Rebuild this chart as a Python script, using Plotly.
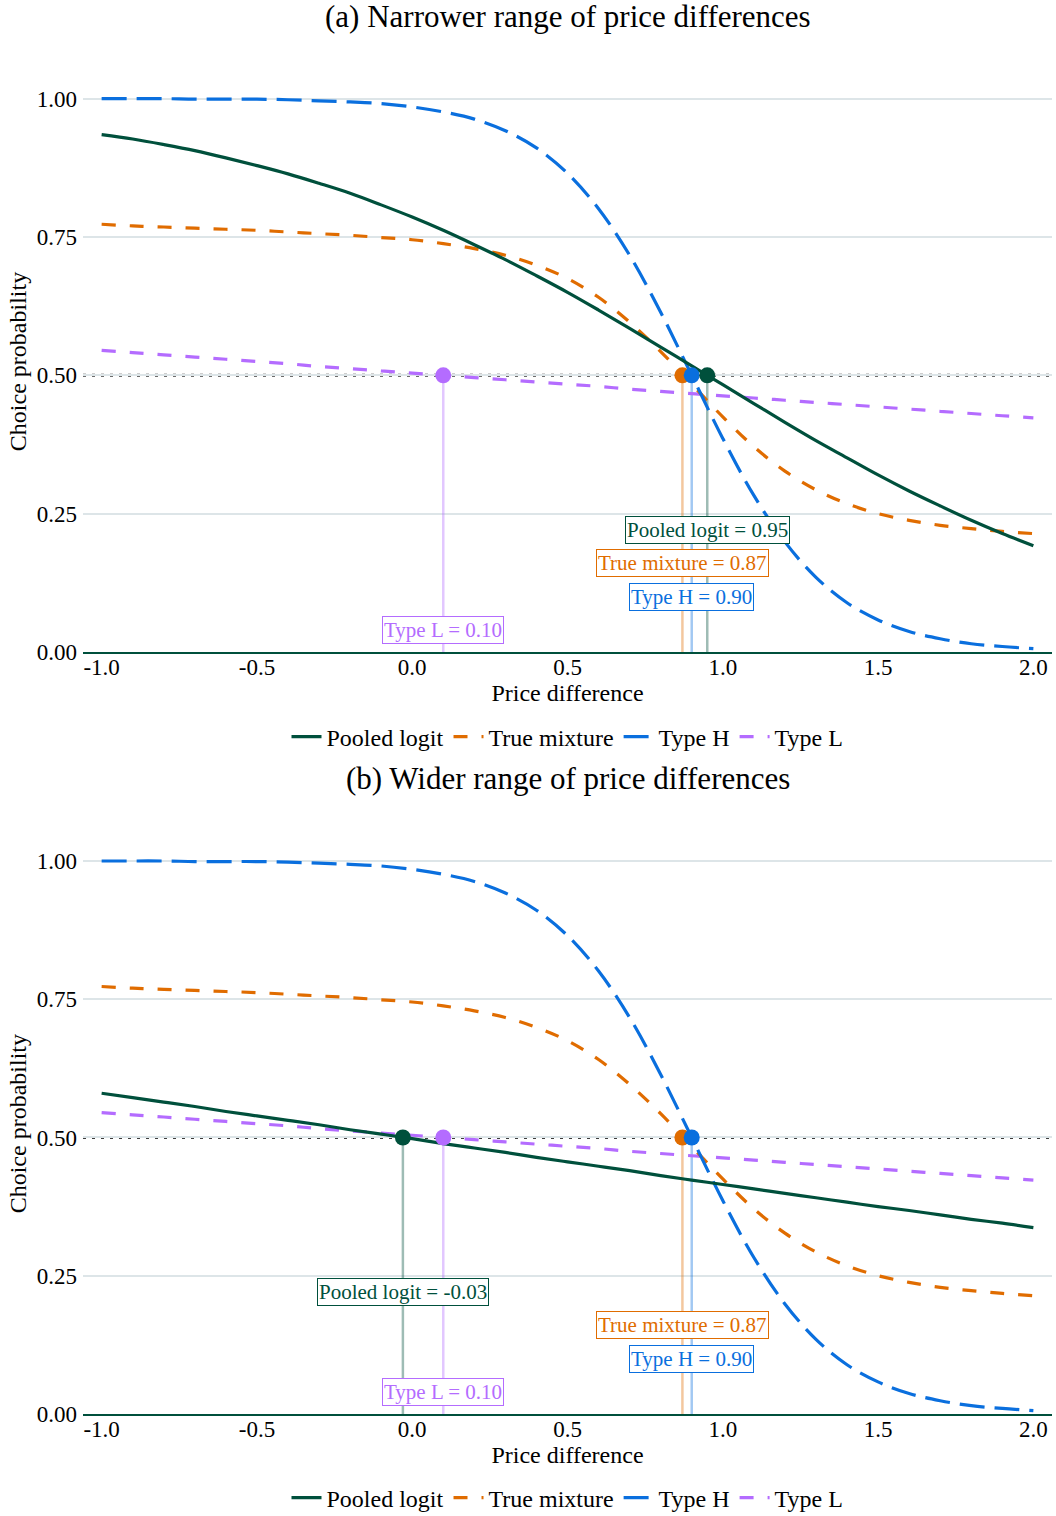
import plotly.graph_objects as go

# Price-difference grid on which the choice probabilities are tabulated
PRICE_DIFF = [-1.0, -0.9, -0.8, -0.7, -0.6, -0.5, -0.4, -0.3, -0.2, -0.1,
              0.0, 0.1, 0.2, 0.3, 0.4, 0.5, 0.6, 0.7, 0.8, 0.9,
              1.0, 1.1, 1.2, 1.3, 1.4, 1.5, 1.6, 1.7, 1.8, 1.9, 2.0]

# Choice probabilities
POOLED_NARROW = [0.935, 0.927, 0.917, 0.906, 0.893, 0.879, 0.864, 0.847, 0.829, 0.808,
                 0.786, 0.762, 0.736, 0.709, 0.680, 0.650, 0.618, 0.585, 0.551, 0.517,
                 0.483, 0.449, 0.415, 0.382, 0.351, 0.320, 0.291, 0.264, 0.238, 0.214, 0.192]
POOLED_WIDE = [0.580, 0.572, 0.564, 0.556, 0.547, 0.539, 0.531, 0.523, 0.514, 0.506,
               0.498, 0.489, 0.481, 0.473, 0.464, 0.456, 0.448, 0.440, 0.431, 0.423,
               0.415, 0.407, 0.399, 0.391, 0.383, 0.375, 0.368, 0.360, 0.352, 0.345, 0.337]
TRUE_MIXTURE = [0.773, 0.770, 0.768, 0.766, 0.764, 0.762, 0.759, 0.756, 0.753, 0.749,
                0.745, 0.738, 0.729, 0.717, 0.699, 0.675, 0.641, 0.596, 0.543, 0.484,
                0.425, 0.371, 0.327, 0.293, 0.268, 0.250, 0.238, 0.229, 0.223, 0.218, 0.214]
TYPE_H = [1.000, 1.000, 1.000, 0.999, 0.999, 0.999, 0.998, 0.996, 0.994, 0.991,
          0.985, 0.976, 0.963, 0.942, 0.911, 0.865, 0.801, 0.717, 0.614, 0.500,
          0.386, 0.283, 0.199, 0.135, 0.089, 0.058, 0.037, 0.024, 0.015, 0.010, 0.006]
TYPE_L = [0.545, 0.541, 0.537, 0.533, 0.529, 0.525, 0.521, 0.516, 0.512, 0.508,
          0.504, 0.500, 0.496, 0.492, 0.488, 0.484, 0.480, 0.475, 0.471, 0.467,
          0.463, 0.459, 0.455, 0.451, 0.447, 0.443, 0.439, 0.435, 0.431, 0.427, 0.423]

# Price difference at which each curve crosses 50 %
MID_POOLED_NARROW = 0.95
MID_POOLED_WIDE = -0.03
MID_MIXTURE = 0.87
MID_TYPE_H = 0.90
MID_TYPE_L = 0.10
HALF = 0.5

PANEL_TITLES = ["(a) Narrower range of price differences",
                "(b) Wider range of price differences"]
SERIES_NAMES = ["Pooled logit", "True mixture", "Type H", "Type L"]

X_TICKS = [-1.0, -0.5, 0.0, 0.5, 1.0, 1.5, 2.0]
X_TICK_TEXT = ["-1.0", "-0.5", "0.0", "0.5", "1.0", "1.5", "2.0"]
Y_TICKS = [0.0, 0.25, 0.5, 0.75, 1.0]
Y_TICK_TEXT = ["0.00", "0.25", "0.50", "0.75", "1.00"]

GREEN = "#00503c"
ORANGE = "#e06c00"
BLUE = "#0a6fde"
PURPLE = "#b46cff"
FONT = "Liberation Serif"


def rgba(hex_color, a):
    h = hex_color.lstrip("#")
    r, g, b = int(h[0:2], 16), int(h[2:4], 16), int(h[4:6], 16)
    return f"rgba({r},{g},{b},{a})"


fig = go.Figure()

panels = [
    dict(pooled=POOLED_NARROW, mid_pooled=MID_POOLED_NARROW, xa="x", ya="y", legend="legend"),
    dict(pooled=POOLED_WIDE, mid_pooled=MID_POOLED_WIDE, xa="x2", ya="y2", legend="legend2"),
]

for p in panels:
    series = [
        # name, values, midpoint, colour, dash, label height
        (SERIES_NAMES[0], p["pooled"], p["mid_pooled"], GREEN, "solid", 0.22),
        (SERIES_NAMES[1], TRUE_MIXTURE, MID_MIXTURE, ORANGE, "14px,14px", 0.16),
        (SERIES_NAMES[2], TYPE_H, MID_TYPE_H, BLUE, "25px,10px", 0.10),
        (SERIES_NAMES[3], TYPE_L, MID_TYPE_L, PURPLE, "14px,14px", 0.04),
    ]

    # 50 % reference line across the whole panel
    fig.add_shape(
        type="line", xref=f"{p['xa']} domain", yref=p["ya"],
        x0=0, x1=1, y0=HALF, y1=HALF, layer="below",
        line=dict(color="#3c3c3c", width=3, dash="3px,6px"),
    )

    # stems from the axis up to each crossing point
    for name, vals, mid, col, dash, ly in series:
        fig.add_trace(go.Scatter(
            x=[mid, mid], y=[0, HALF], mode="lines",
            line=dict(color=rgba(col, 0.38), width=2.5),
            xaxis=p["xa"], yaxis=p["ya"], showlegend=False, hoverinfo="skip",
        ))

    # curves (drawn back to front), legend order fixed by legendrank
    for i in [3, 1, 2, 0]:
        name, vals, mid, col, dash, ly = series[i]
        fig.add_trace(go.Scatter(
            x=PRICE_DIFF, y=vals, mode="lines", name=name,
            line=dict(color=col, width=3.2, dash=dash, shape="spline", smoothing=1.0),
            xaxis=p["xa"], yaxis=p["ya"], legend=p["legend"], legendrank=i + 1,
        ))

    # crossing markers and their value labels
    for i in [3, 1, 2, 0]:
        name, vals, mid, col, dash, ly = series[i]
        fig.add_trace(go.Scatter(
            x=[mid], y=[HALF], mode="markers",
            marker=dict(color=col, size=16, line=dict(width=0)),
            xaxis=p["xa"], yaxis=p["ya"], showlegend=False, hoverinfo="skip",
        ))
        fig.add_annotation(
            x=mid, y=ly, xref=p["xa"], yref=p["ya"],
            text=f"{name} = {mid:.2f}", showarrow=False,
            font=dict(family=FONT, size=21, color=col),
            bgcolor="white", bordercolor=col, borderwidth=1, borderpad=1,
            xanchor="center", yanchor="middle",
        )

axis_common = dict(
    showgrid=False, zeroline=False, ticks="", showline=False,
    tickfont=dict(family=FONT, size=23, color="black"),
)

X_RANGE = [-1.06, 2.06]
Y_RANGE = [0.0, 1.05]

domains_y = [[0.5699, 0.9532], [0.0673, 0.4503]]
for k, (xa, ya) in enumerate([("xaxis", "yaxis"), ("xaxis2", "yaxis2")]):
    anchor_y = "y" if k == 0 else "y2"
    anchor_x = "x" if k == 0 else "x2"
    fig.layout[xa] = dict(
        axis_common, domain=[0, 1], range=X_RANGE, anchor=anchor_y,
        tickvals=X_TICKS, ticktext=X_TICK_TEXT, ticklabelstandoff=-7,
        showline=True, linecolor=GREEN, linewidth=2,
        title=dict(text="Price difference", font=dict(family=FONT, size=24, color="black"),
                   standoff=0),
    )
    fig.layout[ya] = dict(
        axis_common, domain=domains_y[k], range=Y_RANGE, anchor=anchor_x,
        tickvals=Y_TICKS, ticktext=Y_TICK_TEXT, ticklabelstandoff=5,
        showgrid=True, gridcolor="#dde5e8", gridwidth=1.5,
        title=dict(text="Choice probability", font=dict(family=FONT, size=24, color="black"),
                   standoff=3),
    )

legend_common = dict(
    orientation="h", xanchor="center", x=0.5, yanchor="middle",
    font=dict(family=FONT, size=24, color="black"), bgcolor="rgba(0,0,0,0)",
    traceorder="normal", itemwidth=30,
)

fig.update_layout(
    width=1056, height=1516,
    margin=dict(l=83, r=4, t=0, b=0, autoexpand=False),
    paper_bgcolor="white", plot_bgcolor="white",
    font=dict(family=FONT, color="black"),
    legend=dict(legend_common, y=1 - 737 / 1516),
    legend2=dict(legend_common, y=1 - 1498 / 1516),
    annotations=list(fig.layout.annotations) + [
        dict(text=PANEL_TITLES[0], x=528 / 1056, y=1 - 16 / 1516, xref="paper", yref="paper",
             showarrow=False, xanchor="center", yanchor="middle",
             font=dict(family=FONT, size=31, color="black")),
        dict(text=PANEL_TITLES[1], x=528 / 1056, y=1 - 778 / 1516, xref="paper", yref="paper",
             showarrow=False, xanchor="center", yanchor="middle",
             font=dict(family=FONT, size=31, color="black")),
    ],
)

fig.write_html("out.html")
